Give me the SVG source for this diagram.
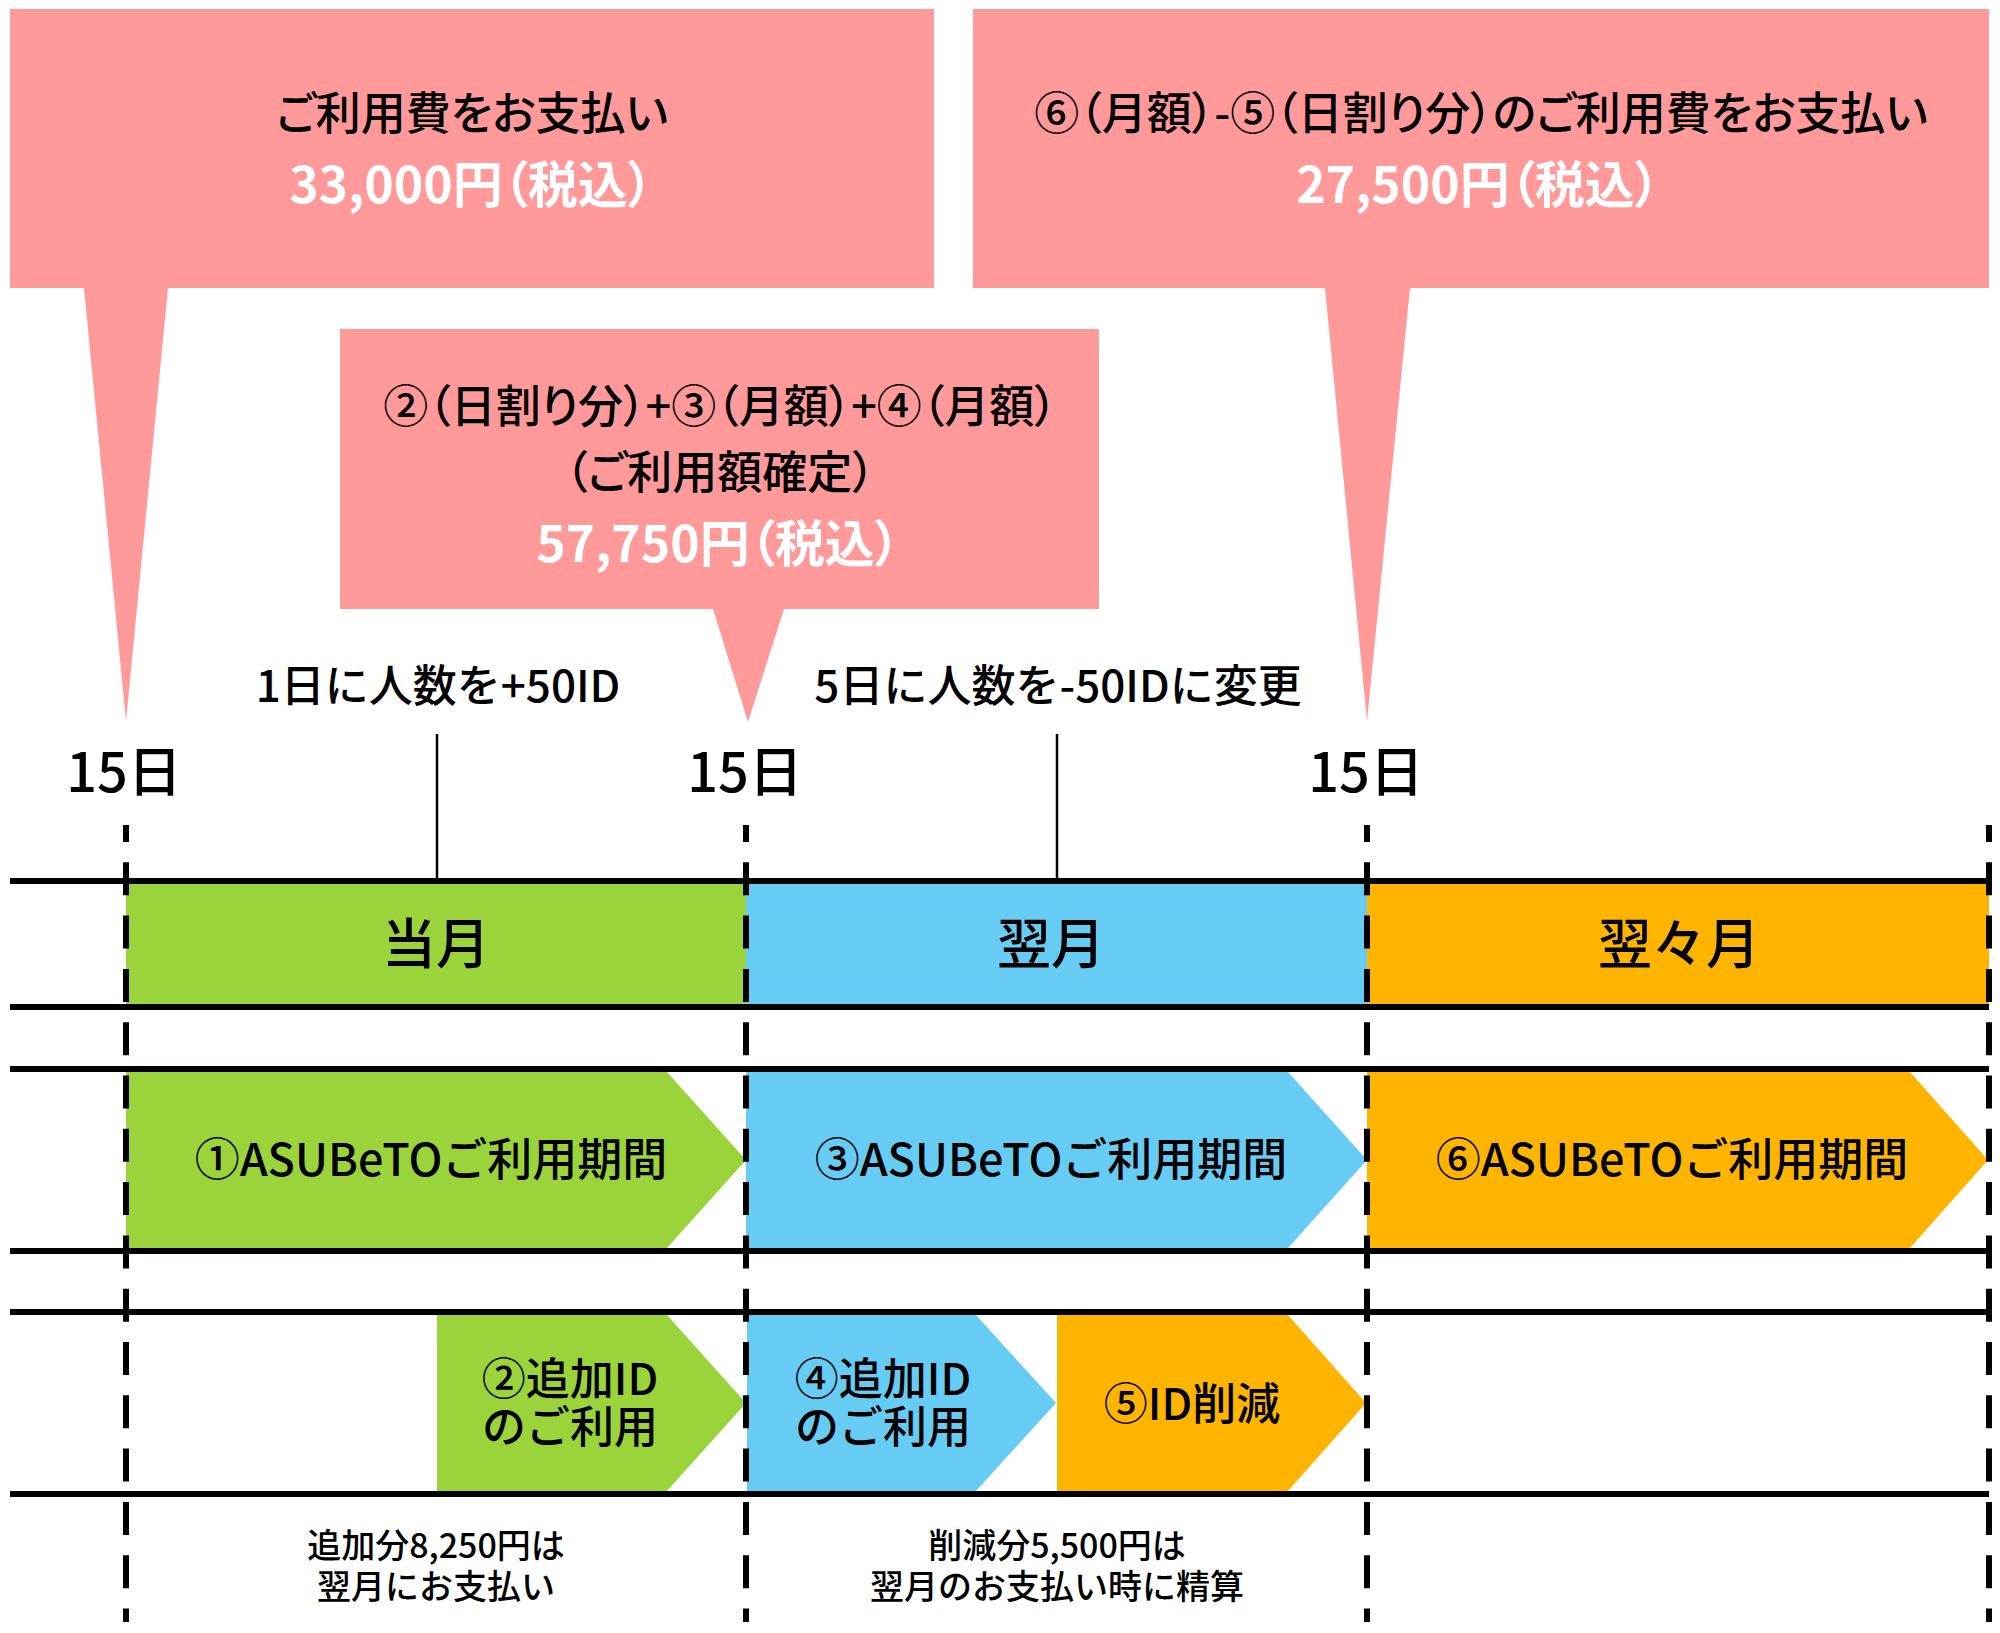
<svg xmlns="http://www.w3.org/2000/svg" width="2000" height="1633" viewBox="0 0 2000 1633">
<style>
text{font-family:"Noto Sans CJK JP","Noto Sans",sans-serif;text-anchor:middle;fill:#000;}
.p{font-feature-settings:"palt";}
.bx{font-size:45px;font-weight:500;}
.amt{font-size:50px;font-weight:700;fill:#fff;}
.day{font-size:54px;font-weight:500;}
.ev{font-size:44px;font-weight:500;}
.mon{font-size:54px;font-weight:500;}
.row{font-size:45px;font-weight:500;}
.sub{font-size:44px;font-weight:500;}
.note{font-size:34px;font-weight:500;}
.pink{fill:#FF999A;}
.g{fill:#9BD43A;}
.b{fill:#66CCF4;}
.o{fill:#FFB500;}
.hl{stroke:#000;stroke-width:6;fill:none;}
.dl{stroke:#000;stroke-width:6;stroke-dasharray:33 20.3;stroke-dashoffset:16;fill:none;}
.tl{stroke:#000;stroke-width:2.5;fill:none;}
</style>
<rect width="2000" height="1633" fill="#fff"/>

<g id="callout-1">
<polygon class="pink" points="10,9 934,9 934,288 168,288 126,721 84,288 10,288"/>
<text class="bx p" x="472" y="130">ご利用費をお支払い</text>
<text class="amt p" x="471" y="203">33,000円（税込）</text>
</g>

<g id="callout-2">
<polygon class="pink" points="973,9 1989,9 1989,288 1410,288 1367,721 1325,288 973,288"/>
<text class="bx p" x="1481" y="130">⑥（月額）-⑤（日割り分）のご利用費をお支払い</text>
<text class="amt p" x="1478" y="203">27,500円（税込）</text>
</g>

<g id="callout-3">
<polygon class="pink" points="340,329 1099,329 1099,609 784,609 748,722 713,609 340,609"/>
<text class="bx p" x="720" y="423">②（日割り分）+③（月額）+④（月額）</text>
<text class="bx p" x="720" y="489">（ご利用額確定）</text>
<text class="amt p" x="718" y="562">57,750円（税込）</text>
</g>

<g id="events">
<text class="ev" x="438" y="702">1日に人数を+50ID</text>
<text class="ev" x="1058" y="702">5日に人数を-50IDに変更</text>
<line class="tl" x1="437" y1="734" x2="437" y2="881"/>
<line class="tl" x1="1057" y1="734" x2="1057" y2="881"/>
</g>

<g id="day-labels">
<text class="day" x="124" y="792">15日</text>
<text class="day" x="745" y="792">15日</text>
<text class="day" x="1366" y="792">15日</text>
</g>

<g id="month-band">
<rect class="g" x="126" y="884" width="620" height="120"/>
<rect class="b" x="746" y="884" width="621" height="120"/>
<rect class="o" x="1367" y="884" width="622" height="120"/>
<text class="mon" x="436" y="964">当月</text>
<text class="mon" x="1051" y="964">翌月</text>
<text class="mon" x="1679" y="964">翌々月</text>
</g>

<g id="period-1">
<polygon class="g" points="126,1072 667,1072 746,1160 667,1248 126,1248"/>
<text class="row" x="431" y="1176">①ASUBeTOご利用期間</text>
</g>
<g id="period-3">
<polygon class="b" points="746,1072 1288,1072 1367,1160 1288,1248 746,1248"/>
<text class="row" x="1051" y="1176">③ASUBeTOご利用期間</text>
</g>
<g id="period-6">
<polygon class="o" points="1367,1072 1910,1072 1988,1160 1910,1248 1367,1248"/>
<text class="row" x="1672" y="1176">⑥ASUBeTOご利用期間</text>
</g>

<g id="add-2">
<polygon class="g" points="437,1315 667,1315 746,1403 667,1491 437,1491"/>
<text class="sub" x="570" y="1395">②追加ID</text>
<text class="sub" x="570" y="1443">のご利用</text>
</g>
<g id="add-4">
<polygon class="b" points="747,1315 976,1315 1056,1403 976,1491 747,1491"/>
<text class="sub" x="883" y="1395">④追加ID</text>
<text class="sub" x="883" y="1443">のご利用</text>
</g>
<g id="reduce-5">
<polygon class="o" points="1057,1315 1288,1315 1366,1403 1288,1491 1057,1491"/>
<text class="sub" x="1192" y="1420">⑤ID削減</text>
</g>

<g id="notes">
<text class="note" x="436" y="1558">追加分8,250円は</text>
<text class="note" x="436" y="1599">翌月にお支払い</text>
<text class="note" x="1057" y="1558">削減分5,500円は</text>
<text class="note" x="1057" y="1599">翌月のお支払い時に精算</text>
</g>

<g id="connectors">
<line class="hl" x1="10" y1="881" x2="1989" y2="881"/>
<line class="hl" x1="10" y1="1007" x2="1989" y2="1007"/>
<line class="hl" x1="10" y1="1069" x2="1989" y2="1069"/>
<line class="hl" x1="10" y1="1251" x2="1989" y2="1251"/>
<line class="hl" x1="10" y1="1312" x2="1989" y2="1312"/>
<line class="hl" x1="10" y1="1494" x2="1989" y2="1494"/>
<line class="dl" x1="126" y1="825" x2="126" y2="1622"/>
<line class="dl" x1="746" y1="825" x2="746" y2="1622"/>
<line class="dl" x1="1367" y1="825" x2="1367" y2="1622"/>
<line class="dl" x1="1989" y1="825" x2="1989" y2="1622"/>
</g>
</svg>
